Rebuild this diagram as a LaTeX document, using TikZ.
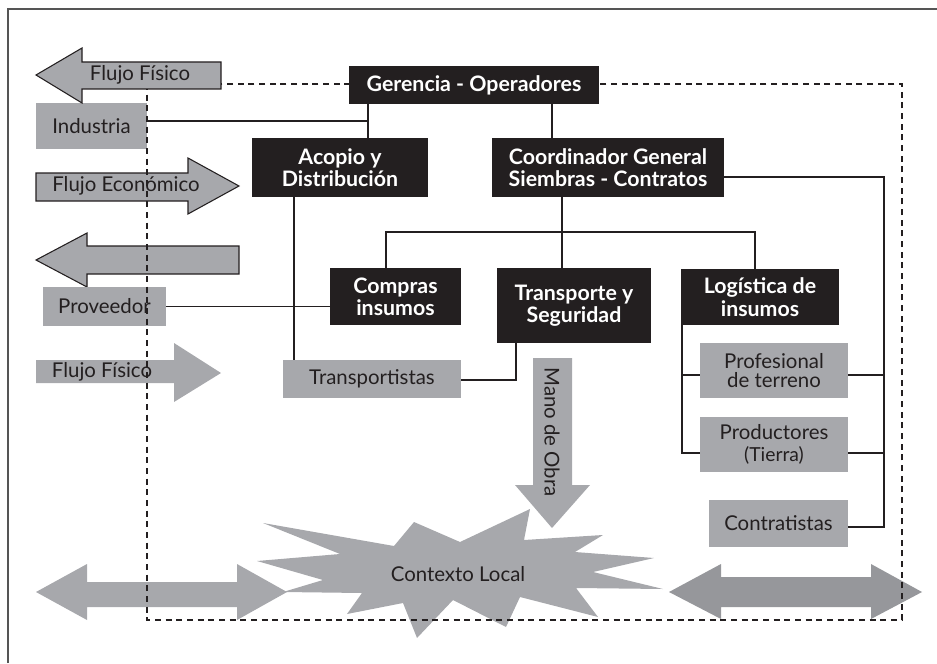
\documentclass[tikz,border=0pt]{standalone}
\usepackage{fontspec}
\setmainfont{Lato}
\definecolor{boxblack}{RGB}{35,31,32}
\definecolor{boxgray}{RGB}{167,168,172}
\definecolor{darkgray2}{RGB}{150,151,155}
\definecolor{txt}{RGB}{35,31,32}
\definecolor{framec}{RGB}{85,85,85}
\begin{document}
\begin{tikzpicture}[x=0.75pt,y=-0.75pt,
  wh/.style 2 args={minimum width=#1*0.75pt, minimum height=#2*0.75pt},
  blk/.style={fill=boxblack, text=white, font=\bfseries\fontsize{16}{16.8}\selectfont, align=center, inner sep=0pt},
  gry/.style={fill=boxgray, text=txt, font=\fontsize{15.3}{16.5}\selectfont, align=center, inner sep=0pt},
  lbl/.style={text=txt, font=\fontsize{15.3}{16.5}\selectfont, inner sep=0pt},
  con/.style={draw=txt, line width=1.1pt},
  arrow1/.style={fill=boxgray, draw=txt, line width=0.8pt, line join=miter},
  arrow2/.style={fill=boxgray},
  arrow3/.style={fill=darkgray2},
  dashline/.style={draw=txt, line width=0.8pt, dash pattern=on 4.5pt off 3.5pt}
]
\useasboundingbox (0,0) rectangle (937,663);
% frame
\draw[framec, line width=1pt] (8,663) -- (8,9) -- (937,9);

% gray arrows
\path[arrow1] (36,173) -- (188,173) -- (188,158) -- (239,186) -- (188,214) -- (188,201) -- (36,201) -- cycle;
\node[lbl] (fe) at (126,186) {Flujo Económico};
\path[arrow1] (36,260) -- (87,233) -- (87,246) -- (239,246) -- (239,274) -- (87,274) -- (87,287) -- cycle;
\path[arrow2] (36,360) -- (174,360) -- (174,343) -- (221,373) -- (174,402) -- (174,383) -- (36,383) -- cycle;
\node[lbl] (ff2) at (102,372) {Flujo Físico};
\path[arrow2] (36,592) -- (87,564) -- (87,582) -- (237,582) -- (237,564) -- (287,592) -- (237,620) -- (237,607) -- (87,607) -- (87,620) -- cycle;
\path[arrow3] (669,592) -- (721,564) -- (721,577) -- (871,577) -- (871,564) -- (922,592) -- (871,619) -- (871,607) -- (721,607) -- (721,619) -- cycle;

% starburst
\fill[boxgray] (414,522) -- (460,542) -- (530,509) -- (524,540) -- (603,535) -- (575,552) -- (654,558) -- (593,572) -- (663,589) -- (576,588) -- (598,617) -- (520,597) -- (506,627) -- (453,600) -- (417,638) -- (403,603) -- (347,614) -- (362,593) -- (283,592) -- (323,580) -- (257,561) -- (340,554) -- (263,523) -- (394,546) -- cycle;
\node[lbl] (ctx) at (458,574) {Contexto Local};

% mano de obra arrow
\path[arrow2] (533,358) -- (572,358) -- (572,485) -- (590,485) -- (552,528) -- (515,485) -- (533,485) -- cycle;
\node[lbl, rotate=-90] (mano) at (552,432) {Mano de Obra};

% gray boxes
\node[gry, wh={111}{46}] (ind) at (91.5,126) {Industria};
\node[gry, wh={123}{39}] (pro) at (104.5,306.5) {Proveedor};
\node[gry, wh={178}{38}] (trp) at (372,379) {Transportistas};
\node[gry, wh={148}{55}, font=\fontsize{15.3}{14.5}\selectfont] (prf) at (774,370.5) {Profesional\\de terreno};
\node[gry, wh={148}{55}] (prd) at (774,444.5) {Productores\\{\fontsize{14.5}{16.5}\selectfont (Tierra)}};
\node[gry, wh={139}{47}] (ctr) at (778.5,523.5) {Contratistas};

% dashed region
\path[dashline] (147,84) rectangle (902,620);

% top flujo fisico arrow
\path[arrow1] (36,75) -- (82,48) -- (82,62) -- (221,62) -- (221,89) -- (82,89) -- (82,103) -- cycle;
\node[lbl] (ff1) at (140,75) {Flujo Físico};

% black boxes
\node[blk, wh={250}{38}] (ger) at (474,85) {Gerencia - Operadores};
\node[blk, wh={176}{59}] (aco) at (340,167.5) {Acopio y\\Distribución};
\node[blk, wh={232}{59}] (coo) at (608,167.5) {Coordinador General\\Siembras - Contratos};
\node[blk, wh={131}{57}] (com) at (395.5,296.5) {Compras\\insumos};
\node[blk, wh={154}{75}] (tra) at (574,305.5) {Transporte y\\Seguridad};
\node[blk, wh={158}{56}] (log) at (760,297) {Logística de\\insumos};

% connector helper coordinates
\coordinate (xA) at (368,121);
\coordinate (xG) at (552,0);
\coordinate (xC) at (562,232);
\coordinate (xCom) at (386,0);
\coordinate (xLog) at (755,0);
\coordinate (xR) at (884,177);
\coordinate (xAco) at (294,0);
\coordinate (xT) at (516,380);
\coordinate (xL) at (682,0);

% connectors
\draw[con] ([yshift=3.75pt]ind.east) -- (xA);
\draw[con] (ger.south -| xA) -- (aco.north -| xA);
\draw[con] (ger.south -| xG) -- (coo.north -| xG);
\draw[con] (coo.south -| xC) -- (xC);
\draw[con] (com.north -| xCom) |- (xC) -| (log.north -| xLog);
\draw[con] (xC) -- (tra.north -| xC);
\draw[con] ([yshift=-7.125pt]coo.east) -- (xR) |- ([yshift=-2.625pt]ctr.east);
\draw[con] ([yshift=-3.375pt]prf.east) -- ([yshift=-3.375pt]prf.east -| xR);
\draw[con] ([yshift=-6.375pt]prd.east) -- ([yshift=-6.375pt]prd.east -| xR);
\draw[con] (aco.south -| xAco) -- (trp.north -| xAco);
\draw[con] (pro.east) -- (com.west |- pro.east);
\draw[con] (trp.east |- xT) -- (xT) -- (tra.south -| xT);
\draw[con] (log.south -| xL) |- ([yshift=-6.375pt]prd.west);
\draw[con] ([yshift=-3.375pt]prf.west) -- ([yshift=-3.375pt]prf.west -| xL);
\end{tikzpicture}
\end{document}
